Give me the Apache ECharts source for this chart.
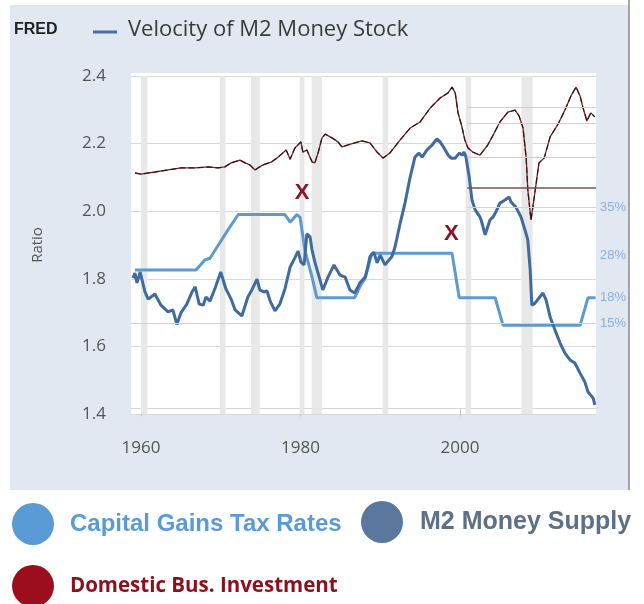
<!DOCTYPE html>
<html>
<head>
<meta charset="utf-8">
<title>Velocity of M2 Money Stock</title>
<script src="https://cdn.jsdelivr.net/npm/echarts@6/dist/echarts.min.js"></script>
<style>
  html, body { margin: 0; padding: 0; background: #fff; }
  #chart { width: 644px; height: 604px; }
</style>
</head>
<body>
<div id="chart"></div>
<script>
// tick labels
var yearTicks = [1960, 1980, 2000];
var ratioTicks = [1.4, 1.6, 1.8, 2.0, 2.2, 2.4];

// velocity of M2 (ratio), [year, value]
var m2Velocity = [
  [1959.0, 1.802], [1959.25, 1.817], [1959.5, 1.788], [1959.9, 1.82], [1960.5, 1.761], [1960.9, 1.74],
  [1961.75, 1.755], [1962.5, 1.722], [1963.4, 1.702], [1964.0, 1.708], [1964.5, 1.665], [1965.0, 1.699],
  [1965.75, 1.725], [1966.4, 1.761], [1966.8, 1.776], [1967.3, 1.725], [1967.8, 1.722], [1968.15, 1.746],
  [1968.65, 1.734], [1969.3, 1.773], [1970.0, 1.82], [1970.65, 1.77], [1971.3, 1.74], [1971.8, 1.708],
  [1972.65, 1.69], [1973.4, 1.746], [1973.9, 1.767], [1974.55, 1.799], [1974.9, 1.767], [1975.4, 1.761],
  [1975.8, 1.764], [1976.2, 1.734], [1976.8, 1.705], [1977.4, 1.725], [1978.05, 1.77], [1978.7, 1.835],
  [1979.3, 1.862], [1979.7, 1.882], [1980.05, 1.85], [1980.45, 1.841], [1980.8, 1.933], [1981.2, 1.924],
  [1981.45, 1.885], [1981.8, 1.85], [1982.2, 1.817], [1982.8, 1.767], [1983.45, 1.805], [1984.2, 1.841],
  [1984.95, 1.811], [1985.6, 1.805], [1986.2, 1.767], [1986.8, 1.758], [1987.45, 1.788], [1988.1, 1.805],
  [1988.35, 1.826], [1988.7, 1.865], [1989.2, 1.879], [1989.6, 1.847], [1990.0, 1.87], [1990.6, 1.841],
  [1991.1, 1.856], [1991.45, 1.865], [1991.85, 1.894], [1992.5, 1.965], [1993.1, 2.024], [1993.75, 2.101],
  [1994.35, 2.16], [1994.85, 2.172], [1995.25, 2.16], [1995.85, 2.181], [1996.5, 2.196], [1997.1, 2.214],
  [1997.5, 2.205], [1998.0, 2.187], [1998.5, 2.166], [1998.9, 2.157], [1999.4, 2.157], [1999.9, 2.172],
  [2000.25, 2.166], [2000.5, 2.175], [2000.75, 2.16], [2001.15, 2.101], [2001.5, 2.033], [2001.9, 2.004],
  [2002.5, 1.983], [2002.65, 1.974], [2003.15, 1.93], [2003.75, 1.974], [2004.15, 1.983], [2004.5, 1.998],
  [2005.0, 2.024], [2005.65, 2.033], [2006.15, 2.042], [2006.4, 2.027], [2007.0, 2.012], [2007.65, 1.983],
  [2008.15, 1.944], [2008.5, 1.915], [2008.8, 1.826], [2009.0, 1.722], [2009.4, 1.728], [2010.0, 1.746],
  [2010.4, 1.758], [2010.8, 1.737], [2011.3, 1.687], [2011.9, 1.649], [2012.55, 1.61], [2013.15, 1.58],
  [2013.8, 1.56], [2014.4, 1.551], [2015.05, 1.521], [2015.65, 1.495], [2016.05, 1.465], [2016.7, 1.447],
  [2016.9, 1.427]
];

// capital gains tax rate (%), [year, rate] - pasted chart, own scale
var taxRate = [
  [1959.25, 25], [1966.9, 25], [1968.0, 26.8], [1968.65, 27.1], [1970.9, 32.2], [1972.2, 35],
  [1978.05, 35], [1978.7, 33.6], [1979.55, 35], [1979.95, 34.5], [1980.55, 28.6], [1981.45, 23.7],
  [1982.05, 20], [1986.8, 20], [1987.45, 22], [1988.1, 23.5], [1988.95, 28], [1999.0, 28],
  [1999.9, 20], [2004.4, 20], [2005.4, 15], [2015.05, 15], [2016.05, 20], [2017.0, 20]
];
var taxLabelLevels = [36.3, 27.6, 20, 15.4];
var taxLabelTexts = ['35%', '28%', '18%', '15%'];

// domestic business investment - pasted chart, shown in ratio units
var investment = [
  [1959.25, 2.113], [1960.0, 2.11], [1961.75, 2.116], [1963.4, 2.122], [1965.0, 2.128], [1966.8, 2.128],
  [1968.4, 2.131], [1969.65, 2.128], [1970.5, 2.131], [1971.3, 2.143], [1972.4, 2.151], [1973.05, 2.143],
  [1973.65, 2.137], [1974.3, 2.122], [1974.65, 2.128], [1975.3, 2.137], [1976.4, 2.146], [1977.2, 2.16],
  [1978.2, 2.181], [1978.7, 2.154], [1979.3, 2.187], [1980.05, 2.205], [1980.3, 2.175], [1980.8, 2.181],
  [1981.45, 2.146], [1981.8, 2.143], [1982.2, 2.172], [1982.7, 2.217], [1983.1, 2.228], [1983.95, 2.217],
  [1984.7, 2.205], [1985.2, 2.19], [1985.95, 2.196], [1986.8, 2.202], [1987.7, 2.208], [1988.7, 2.202],
  [1989.6, 2.175], [1990.35, 2.157], [1991.2, 2.172], [1992.5, 2.211], [1993.75, 2.246], [1995.0, 2.264],
  [1996.25, 2.305], [1997.5, 2.335], [1998.5, 2.35], [1999.0, 2.367], [1999.4, 2.35], [1999.75, 2.291],
  [2000.25, 2.249], [2000.6, 2.211], [2001.0, 2.187], [2001.6, 2.175], [2002.5, 2.166], [2003.4, 2.193],
  [2004.15, 2.225], [2005.0, 2.264], [2006.0, 2.293], [2006.9, 2.299], [2007.4, 2.282], [2007.9, 2.246],
  [2008.3, 2.157], [2008.5, 2.063], [2008.9, 1.974], [2009.4, 2.057], [2009.9, 2.143], [2010.55, 2.157],
  [2011.3, 2.22], [2012.3, 2.258], [2013.15, 2.299], [2013.9, 2.341], [2014.55, 2.367], [2015.05, 2.341],
  [2015.4, 2.308], [2015.9, 2.267], [2016.4, 2.291], [2016.9, 2.279]
];
// leftover gridlines of the pasted investment chart
var investGridLevels = [2.308, 2.261, 2.16];
var investDarkLevel = 2.069;
var investGridFrom = 2000.9;

// recession shading
var recessions = [
  [1960.0, 1960.8], [1969.9, 1970.6], [1973.8, 1974.9], [1979.9, 1980.5],
  [1981.4, 1982.7], [1990.3, 1991.0], [2000.7, 2001.4], [2007.7, 2009.1]
];

// hand drawn X marks
var xMarks = [[1980.2, 2.054], [1998.9, 1.933]];

var chart = echarts.init(document.getElementById('chart'));

var fontMain = '"Open Sans", "DejaVu Sans", sans-serif';
var fontArial = '"Liberation Sans", Arial, sans-serif';

var option = {
  backgroundColor: '#ffffff',
  animation: false,
  graphic: [
    { type: 'rect', z: -100, shape: { x: 10, y: 5, width: 619, height: 485 }, style: { fill: '#e1e8f1' } },
    { type: 'rect', z: -90, shape: { x: 131, y: 73, width: 465, height: 342 }, style: { fill: '#ffffff' } },
    { type: 'line', z: -80, shape: { x1: 629, y1: 0, x2: 629, y2: 490 }, style: { stroke: '#8a8a8a', lineWidth: 1.5 } },
    { type: 'text', left: 14, top: 22, style: { text: 'FRED', font: 'bold 16px ' + fontArial, fill: '#222' } },
    { type: 'line', shape: { x1: 93, y1: 32, x2: 117, y2: 32 }, style: { stroke: '#4a6fa0', lineWidth: 3 } },
    { type: 'text', left: 128, top: 19, style: { text: 'Velocity of M2 Money Stock', font: '22px ' + fontMain, fill: '#3a3a3a' } }
  ],
  grid: { left: 131, right: 48, top: 76, bottom: 190 },
  legend: [
    {
      left: 12, top: 503, padding: 0, icon: 'circle', itemWidth: 42, itemHeight: 42, selectedMode: false,
      textStyle: { fontSize: 24, fontWeight: 'bold', fontFamily: fontArial, padding: [0, 0, 0, 11] },
      data: [{ name: 'Capital Gains Tax Rates', itemStyle: { color: '#5b9bd5', borderWidth: 0 }, textStyle: { color: '#5b9bd5' } }]
    },
    {
      left: 361, top: 501, padding: 0, icon: 'circle', itemWidth: 42, itemHeight: 42, selectedMode: false,
      textStyle: { fontSize: 25, fontWeight: 'bold', fontFamily: fontArial, padding: [0, 0, 0, 12] },
      data: [{ name: 'M2 Money Supply', itemStyle: { color: '#5a789e', borderWidth: 0 }, textStyle: { color: '#5f6f86' } }]
    },
    {
      left: 12, top: 565, padding: 0, icon: 'circle', itemWidth: 42, itemHeight: 42, selectedMode: false,
      textStyle: { fontSize: 20.5, fontWeight: 'bold', fontFamily: fontMain, padding: [0, 0, 0, 11] },
      data: [{ name: 'Domestic Bus. Investment', itemStyle: { color: '#9c0e1e', borderWidth: 0 }, textStyle: { color: '#8e0e1c' } }]
    }
  ],
  xAxis: {
    type: 'value',
    min: 1958.75,
    max: 2017.05,
    axisLine: { show: true, lineStyle: { color: '#d6d6d6' } },
    axisTick: { show: true, length: 8, customValues: yearTicks, lineStyle: { color: '#c8c8c8' } },
    axisLabel: {
      customValues: yearTicks, margin: 26, fontSize: 17, color: '#555', fontFamily: fontMain,
      formatter: function (v) { return String(Math.round(v)); }
    },
    splitLine: { show: false }
  },
  yAxis: [
    {
      type: 'value',
      min: ratioTicks[0],
      max: ratioTicks[ratioTicks.length - 1],
      interval: 0.2,
      name: 'Ratio',
      nameLocation: 'middle',
      nameGap: 86,
      nameTextStyle: { fontSize: 15, color: '#555', fontFamily: fontMain },
      axisLine: { show: false },
      axisTick: { show: false },
      axisLabel: { margin: 25, fontSize: 17, color: '#555', fontFamily: fontMain, formatter: function (v) { return v.toFixed(1); } },
      splitLine: { lineStyle: { color: '#d9d9d9', width: 1 } }
    },
    { type: 'value', min: -1, max: 60, show: false, splitLine: { show: false } }
  ],
  series: [
    {
      name: 'recessions',
      type: 'line',
      data: [],
      silent: true,
      markArea: {
        silent: true,
        itemStyle: { color: '#e8e8e8' },
        data: recessions.map(function (r) { return [{ xAxis: r[0] }, { xAxis: r[1] }]; })
      }
    },
    {
      name: 'Domestic Bus. Investment',
      type: 'line',
      data: investment,
      showSymbol: false,
      lineStyle: { color: '#8b1c24', width: 1.3 },
      itemStyle: { color: '#8b1c24' },
      markLine: {
        silent: true,
        symbol: 'none',
        label: { show: false },
        data: investGridLevels.map(function (v) {
          return [{ coord: [investGridFrom, v], lineStyle: { color: '#cfcfcf', width: 1, type: 'solid' } }, { coord: [2017.05, v] }];
        }).concat([[{ coord: [investGridFrom, investDarkLevel], lineStyle: { color: '#7d5050', width: 1.6, type: 'solid' } }, { coord: [2017.05, investDarkLevel] }]])
      }
    },
    {
      name: 'investment-trace',
      type: 'line',
      data: investment,
      showSymbol: false,
      silent: true,
      lineStyle: { color: '#1a1a1a', width: 1.2, type: [6, 3], opacity: 0.9 }
    },
    {
      name: 'Capital Gains Tax Rates',
      type: 'line',
      yAxisIndex: 1,
      data: taxRate,
      showSymbol: false,
      lineStyle: { color: '#5c9bd1', width: 3 },
      itemStyle: { color: '#5c9bd1' },
      markLine: {
        silent: true,
        symbol: 'none',
        label: { show: true, position: 'end', distance: 4, color: '#8ab0d8', fontSize: 13, fontFamily: fontArial },
        data: taxLabelLevels.map(function (v, i) {
          var visible = (i === 0 || i === 3);
          return [
            { coord: [i === 3 ? 1958.75 : investGridFrom, v], lineStyle: { color: visible ? '#d2d2d2' : 'rgba(0,0,0,0)', width: 1, type: 'solid' },
              label: { formatter: taxLabelTexts[i] } },
            { coord: [2017.05, v] }
          ];
        })
      }
    },
    {
      name: 'M2 Money Supply',
      type: 'line',
      data: m2Velocity,
      showSymbol: false,
      lineStyle: { color: '#3f6b9e', width: 3 },
      itemStyle: { color: '#3f6b9e' }
    },
    {
      name: 'marks',
      type: 'scatter',
      data: xMarks,
      symbolSize: 1,
      itemStyle: { color: 'rgba(0,0,0,0)' },
      silent: true,
      label: {
        show: true, position: 'inside', formatter: 'X', textBorderWidth: 0, opacity: 1,
        fontSize: 22, fontWeight: 'bold', color: '#8b1425', fontFamily: fontArial
      }
    }
  ]
};

chart.setOption(option);
</script>
</body>
</html>
